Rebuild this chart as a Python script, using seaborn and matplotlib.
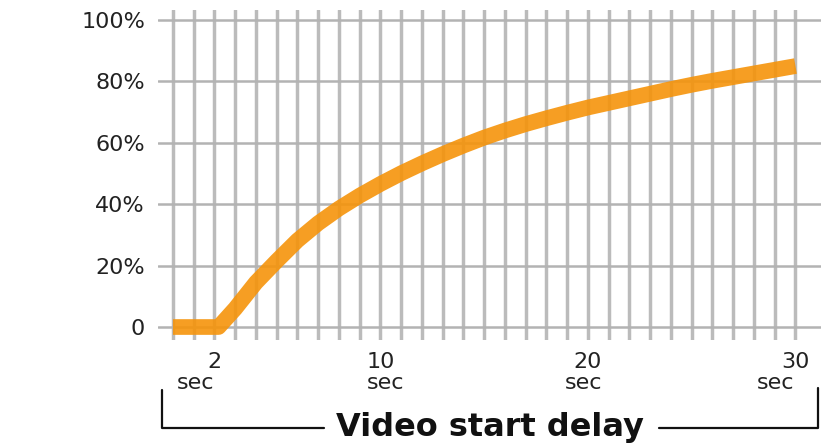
import matplotlib
matplotlib.use("Agg")
import matplotlib.pyplot as plt
from matplotlib.lines import Line2D
import seaborn as sns
import pandas as pd

# ---- data ----
delay_sec = [0, 2.2, 3, 4, 5, 6, 7, 8, 9, 10, 11, 12, 13, 14, 15, 16, 17, 18, 19,
             20, 21, 22, 23, 24, 25, 26, 27, 28, 29, 30]
share_pct = [0, 0, 6, 14.5, 21.5, 28.2, 33.8, 38.6, 42.8, 46.6, 50.1, 53.3, 56.3,
             59.1, 61.7, 64, 66.1, 68, 69.8, 71.5, 73, 74.5, 76, 77.5, 78.9, 80.2,
             81.4, 82.6, 83.8, 85]
y_ticks = [0, 20, 40, 60, 80, 100]
y_tick_labels = ["0", "20%", "40%", "60%", "80%", "100%"]
x_ticks = [2, 10, 20, 30]
x_tick_labels = ["2", "10", "20", "30"]
x_unit = "sec"
axis_title = "Video start delay"

df = pd.DataFrame({"delay": delay_sec, "share": share_pct})

sns.set_theme(style="white")
plt.rcParams["font.family"] = ["DejaVu Sans"]

W, H = 821, 445
fig = plt.figure(figsize=(W / 100, H / 100), dpi=100)
ax = fig.add_axes([158 / W, 105 / H, 663 / W, 330 / H])

sns.lineplot(data=df, x="delay", y="share", ax=ax, color="#F5940B", alpha=0.9,
             linewidth=11.3, solid_capstyle="butt", solid_joinstyle="round",
             zorder=3)

ax.set_xlim(-0.72, 31.23)
ax.set_ylim(-4.23, 103.26)

# grid
ax.xaxis.remove_overlapping_locs = False
ax.set_xticks(range(0, 31), minor=True)
ax.set_xticks(x_ticks)
ax.set_xticklabels(x_tick_labels)
ax.set_yticks(y_ticks)
ax.set_yticklabels(y_tick_labels)
ax.grid(False)
ax.grid(which="minor", axis="x", color="#BBBBBB", linewidth=2.5, zorder=1)
ax.grid(which="major", axis="y", color="#B3B3B3", linewidth=1.8, zorder=1)
ax.set_axisbelow(True)

for s in ax.spines.values():
    s.set_visible(False)
ax.tick_params(axis="both", which="both", length=0)
ax.tick_params(axis="y", pad=9.4, labelsize=16, labelcolor="#222222")
ax.tick_params(axis="x", pad=9.0, labelsize=16, labelcolor="#222222")
ax.set_xlabel("")
ax.set_ylabel("")

# "sec" under each x tick label
sec_offsets_px = [-19, 5, -4, -20]
for xv, off in zip(x_ticks, sec_offsets_px):
    ax.annotate(x_unit, xy=(xv, 0), xycoords=("data", "axes fraction"),
                xytext=(off * 0.72, -43 * 0.72), textcoords="offset points",
                ha="center", va="center", fontsize=16, color="#222222")

# axis title with bracket
title = fig.text(490 / W, 1 - 436 / H, axis_title, ha="center", va="baseline",
                 fontsize=23, fontweight="bold", color="#111111")
fig.canvas.draw()
bb = title.get_window_extent(fig.canvas.get_renderer())
x0, x1 = bb.x0, bb.x1
yl = 1 - 428 / H
lw = 1.6
fig.add_artist(Line2D([162 / W, 162 / W, (x0 - 12) / W], [1 - 390 / H, yl, yl],
                      transform=fig.transFigure, color="#111111", linewidth=lw))
fig.add_artist(Line2D([(x1 + 15) / W, 818 / W, 818 / W], [yl, yl, 1 - 388 / H],
                      transform=fig.transFigure, color="#111111", linewidth=lw))

fig.savefig("out.png", dpi=100)
